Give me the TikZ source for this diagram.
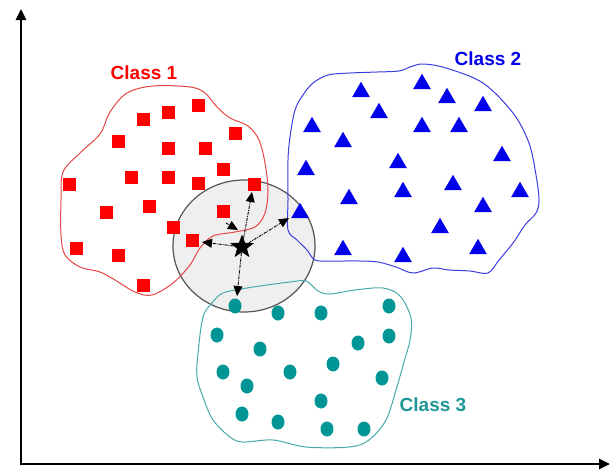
\documentclass[tikz,border=0pt]{standalone}
\usepackage{fontspec}
\setmainfont{Liberation Sans}
\usetikzlibrary{shapes.geometric,arrows.meta}
\definecolor{cred}{RGB}{255,0,0}
\definecolor{credline}{RGB}{230,70,70}
\definecolor{cblue}{RGB}{0,0,235}
\definecolor{cblueline}{RGB}{60,60,225}
\definecolor{cteal}{RGB}{0,150,150}
\definecolor{ctealline}{RGB}{70,170,170}
\definecolor{ctealtext}{RGB}{30,150,150}
\definecolor{cgrayfill}{RGB}{239,239,239}
\definecolor{cgrayline}{RGB}{85,85,85}
\tikzset{
  sq/.style={rectangle, fill=cred, inner sep=0pt, minimum size=13pt},
  tri/.style={regular polygon, regular polygon sides=3, fill=cblue, inner sep=0pt, minimum size=20.5pt},
  dot/.style={ellipse, fill=cteal, inner sep=0pt, minimum width=13pt, minimum height=15pt},
  lbl/.style={font=\bfseries\fontsize{19}{22}\selectfont, inner sep=0pt},
  blob/.style={line width=1.0pt},
  axis/.style={line width=2.6pt, -{Triangle[length=11pt,width=10pt]}},
  knn/.style={line width=0.9pt, densely dash dot, -{Triangle[length=10pt,width=9pt]}},
}
\begin{document}
\begin{tikzpicture}[x=1pt,y=-1pt]
\useasboundingbox (0,0) rectangle (612,471);
% neighbourhood circle
\node[ellipse, draw=cgrayline, line width=1.2pt, fill=cgrayfill, minimum width=142pt, minimum height=132pt, inner sep=0pt] (nbhd) at (244,246) {};
% class boundaries
\draw[blob, credline] plot[smooth cycle, tension=0.55] coordinates {
 (127,93) (153,86) (190,87) (205,93) (217,107) (230,118) (248,126) (259,140) (265,163) (268,190) (265,213) (255,227) (235,232) (213,236) (200,248) (190,265) (173,283) (152,295) (135,292) (115,280) (100,272) (80,267) (65,255) (61,235) (61,200) (63,172) (80,153) (100,134) (110,112)};
\draw[blob, cblueline] plot[smooth cycle, tension=0.55] coordinates {
 (313,83) (328,75) (350,73) (377,72) (399,71) (410,67) (423,64) (446,68) (483,83) (513,113) (529,143) (536,175) (539,200) (536,213) (525,225) (513,243) (499,260) (488,273) (470,271) (449,270) (433,268) (413,273) (396,267) (378,262) (359,261) (330,261) (315,260) (307,250) (297,240) (288,230) (288,200) (288,160) (290,137) (295,110) (303,95)};
\draw[blob, ctealline] plot[smooth cycle, tension=0.55] coordinates {
 (212,303) (223,293) (247,288) (267,285) (290,282) (306,281) (318,291) (330,294) (355,290) (383,288) (400,296) (411,318) (410,340) (404,362) (396,390) (386,420) (369,440) (349,447) (306,447) (273,440) (243,442) (230,437) (213,420) (203,397) (197,377) (198,353) (203,317)};
% axes
\coordinate (O) at (21,464);
\coordinate (ytop) at (21,9);
\coordinate (xend) at (610,464);
\draw[axis] ([yshift=-1.3pt]O) -- (ytop);
\draw[axis] ([xshift=-1.3pt]O) -- (xend);
% labels
\node[lbl, text=cred] (l1) at (144,73) {Class 1};
\node[lbl, text=cblue] (l2) at (488,59) {Class 2};
\node[lbl, text=ctealtext] (l3) at (433,405) {Class 3};
% class 1 squares
\foreach \p [count=\i] in {(198,105),(168,112),(143,119),(235,133),(118,141),(168,148),(205,148),(223,169),(131,177),(168,177),(198,183),(69,184),(254,184),(149,206),(106,212),(223,211),(173,227),(192,240),(76,248),(118,255),(143,285)}
  \node[sq] (s\i) at \p {};
% class 2 triangles
\foreach \p [count=\i] in {(361,92),(422,84),(447,98),(483,106),(379,113),(312,127),(422,127),(459,127),(343,142),(502,156),(398,163),(306,170),(453,185),(403,192),(520,192),(349,199),(300,213),(483,207),(440,228),(343,250),(403,257),(478,249)}
  \node[tri] (t\i) at \p {};
% class 3 dots
\foreach \p [count=\i] in {(235,306),(278,313),(321,313),(389,306),(217,335),(389,336),(260,349),(358,343),(223,372),(290,372),(333,364),(382,378),(247,386),(321,401),(242,414),(278,422),(327,429),(364,429)}
  \node[dot] (d\i) at \p {};
% query point and nearest-neighbour arrows
\node[star, star points=5, star point ratio=2.4, fill=black, inner sep=0pt, minimum size=25pt] (q) at (242,247) {};
\coordinate (k1) at (252,192);
\coordinate (k2s) at (226,223);
\coordinate (k2e) at (238,230);
\coordinate (k3) at (202,242);
\coordinate (k4) at (289,218);
\coordinate (k5) at (237,296);
\draw[knn] (q) -- (k1);
\draw[knn] (k2s) -- (k2e);
\draw[knn] (q) -- (k3);
\draw[knn] (q) -- (k4);
\draw[knn] (q) -- (k5);
\end{tikzpicture}
\end{document}
